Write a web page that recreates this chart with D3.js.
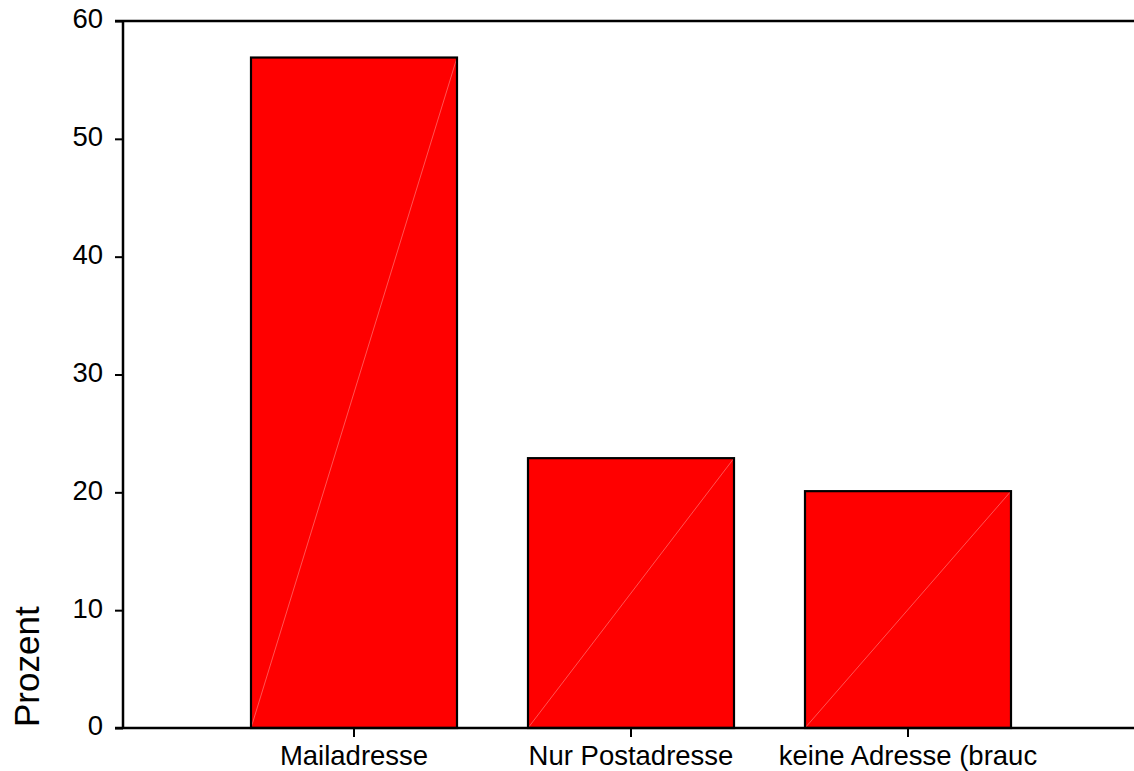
<!DOCTYPE html>
<html><head><meta charset="utf-8">
<script src="https://cdn.jsdelivr.net/npm/d3@7"></script>
<style>body{margin:0;background:#fff}svg{display:block}text{font-family:"Liberation Sans",Arial,sans-serif;fill:#000}</style>
</head><body><svg id="c" width="1134" height="771"></svg>
<script>
const categories = ["Mailadresse", "Nur Postadresse", "keine Adresse (brauc"];
const values = [56.9, 22.9, 20.1];
const yTicks = [0, 10, 20, 30, 40, 50, 60];
const yLabel = "Prozent";

const svg = d3.select("#c");
const x = d3.scaleBand().domain(categories).range([215.5, 1046.5]).paddingInner(0.2563).paddingOuter(0.12815);
const y = d3.scaleLinear().domain([0, 60]).range([728, 21]);

// bars
const g = svg.append("g");
categories.forEach((c, i) => {
  const x0 = x(c), w = x.bandwidth(), y0 = y(values[i]), y1 = y(0);
  g.append("rect").attr("x", x0).attr("y", y0).attr("width", w).attr("height", y1 - y0)
    .attr("fill", "#ff0000").attr("stroke", "none");
  g.append("line").attr("x1", x0).attr("y1", y1).attr("x2", x0 + w).attr("y2", y0)
    .attr("stroke", "#ff8c8c").attr("stroke-width", 0.6);
  g.append("rect").attr("x", x0).attr("y", y0).attr("width", w).attr("height", y1 - y0)
    .attr("fill", "none").attr("stroke", "#000").attr("stroke-width", 2.2);
});

// y axis
const ya = svg.append("g").attr("transform", "translate(123,0)")
  .call(d3.axisLeft(y).tickValues(yTicks).tickSize(8).tickPadding(12).tickFormat(d3.format("d")));
ya.select(".domain").remove();
ya.selectAll(".tick line").attr("stroke", "#000").attr("stroke-width", 2);
ya.selectAll(".tick text").attr("font-size", 27.5).attr("font-family", "Liberation Sans, Arial, sans-serif").attr("dy", "0.25em");
svg.append("line").attr("x1", 123).attr("x2", 123).attr("y1", y(60)).attr("y2", y(0)).attr("stroke", "#000").attr("stroke-width", 2.5);
svg.append("line").attr("x1", 115).attr("x2", 1134).attr("y1", y(60)).attr("y2", y(60)).attr("stroke", "#000").attr("stroke-width", 2.5);

// x axis
const xa = svg.append("g").attr("transform", "translate(0,728)")
  .call(d3.axisBottom(x).tickSize(9).tickPadding(8));
xa.select(".domain").remove();
xa.selectAll(".tick line").attr("stroke", "#000").attr("stroke-width", 2);
xa.selectAll(".tick text").attr("font-size", 27.5).attr("font-family", "Liberation Sans, Arial, sans-serif");
svg.append("line").attr("x1", 115).attr("x2", 1134).attr("y1", y(0)).attr("y2", y(0)).attr("stroke", "#000").attr("stroke-width", 2.5);

// y label
svg.append("text").attr("transform", "translate(39,727) rotate(-90)")
  .attr("text-anchor", "start").attr("font-size", 35).text(yLabel);
</script></body></html>
